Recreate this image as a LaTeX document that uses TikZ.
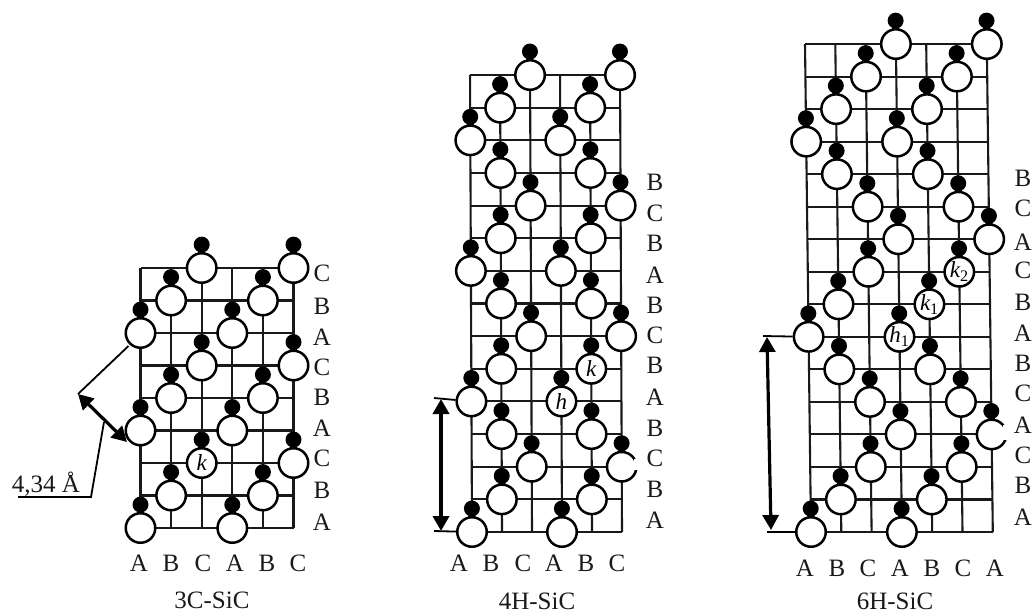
\documentclass[tikz,border=0pt]{standalone}
\usepackage{fontspec}
\setmainfont{Liberation Serif}
\usetikzlibrary{arrows.meta}
\tikzset{
  gridline/.style={line width=2.1pt,black!90},
  atomnode/.style={circle,draw=black,line width=2.5pt,fill=white,minimum size=29.5pt,inner sep=0pt},
  dotnode/.style={circle,fill=black,minimum size=16pt,inner sep=0pt},
  stem/.style={line width=7pt,black,shorten >=-10pt},
  lab/.style={font=\fontsize{25}{25}\selectfont,inner sep=0pt,text=black!90},
  inlab/.style={font=\fontsize{23}{23}\selectfont\itshape,inner sep=0pt},
  dim/.style={line width=4pt,{Triangle[length=15pt,width=16pt]}-{Triangle[length=15pt,width=16pt]}},
  thinl/.style={line width=1.8pt,black}
}
\begin{document}
\begin{tikzpicture}[x=1pt,y=-1pt]
\useasboundingbox (0,0) rectangle (1035,613);
\fill[white] (0,0) rectangle (1035,613);

% ---------- 3C ----------
\begin{scope}[shift={(140.5,528)},x={(30.6pt,0pt)},y={(0pt,32.5pt)}]
  \foreach \r in {0,...,8}{\draw[gridline] (0,\r) -- (5,\r);}
  \foreach \c in {0,...,5}{\draw[gridline] (\c,0) -- (\c,8);}
  \foreach \c/\r in {0/0,3/0,1/1,4/1,2/2,5/2,0/3,3/3,1/4,4/4,2/5,5/5,0/6,3/6,1/7,4/7,2/8,5/8}{
    \node[dotnode] (pa-d-\c-\r) at (\c,\r+0.72) {};
    \coordinate (pa-c-\c-\r) at (\c,\r);
    \draw[stem] (pa-c-\c-\r) -- (pa-d-\c-\r);
    \node[atomnode] (pa-\c-\r) at (\c,\r) {};
  }
  \node[inlab] (pa-k) at (pa-2-2) {k};
\end{scope}
\foreach \t/\y [count=\i] in {A/522,B/490,C/458,A/428,B/397,C/367,A/337,B/306,C/273}{
  \node[lab] (pa-r\i) at (322,\y) {\t};}
\foreach \t/\x [count=\i] in {A/139,B/171,C/203,A/235,B/267,C/298}{
  \node[lab] (pa-b\i) at (\x,563) {\t};}
\node[lab] (pa-name) at (212,600) {3C-SiC};
\coordinate (pa-e1) at (78,394);
\coordinate (pa-e2) at (127,442);
\coordinate (pa-m) at (104,422);
\coordinate (pa-l1) at (18,497);
\coordinate (pa-l2) at (91,497);
\draw[thinl] (pa-0-6) ++(-12,13) -- (pa-e1);
\draw[dim,line width=3.2pt] (pa-e1) -- (pa-e2);
\draw[thinl] (pa-l1) -- (pa-l2) -- (pa-m);
\node[lab] (pa-dist) at (46,484) {4,34 Å};

% ---------- 4H ----------
\begin{scope}[shift={(472,532)},x={(30pt,0pt)},y={(-0.14pt,32.64pt)}]
  \foreach \r in {0,...,14}{\draw[gridline] (0,\r) -- (5,\r);}
  \foreach \c in {0,...,5}{\draw[gridline] (\c,0) -- (\c,14);}
  \foreach \c/\r in {0/0,3/0,1/1,4/1,2/2,5/2,1/3,4/3,0/4,3/4,1/5,4/5,2/6,5/6,1/7,4/7,0/8,3/8,1/9,4/9,2/10,5/10,1/11,4/11,0/12,3/12,1/13,4/13,2/14,5/14}{
    \node[dotnode] (pb-d-\c-\r) at (\c,\r+0.72) {};
    \coordinate (pb-c-\c-\r) at (\c,\r);
    \draw[stem] (pb-c-\c-\r) -- (pb-d-\c-\r);
    \node[atomnode] (pb-\c-\r) at (\c,\r) {};
  }
  \node[inlab] (pb-k) at (pb-4-5) {k};
  \node[inlab] (pb-h) at (pb-3-4) {h};
\end{scope}
\fill[white] (634,459) rectangle (641,470);
\foreach \t/\y [count=\i] in {A/520,B/489,C/458,B/428,A/397,B/365,C/335,B/305,A/275,B/243,C/213,B/182}{
  \node[lab] (pb-r\i) at (655,\y) {\t};}
\foreach \t/\x [count=\i] in {A/459,B/491,C/523,A/554,B/586,C/617}{
  \node[lab] (pb-b\i) at (\x,563) {\t};}
\node[lab] (pb-name) at (537,601) {4H-SiC};
\coordinate (pb-t1) at (434,398);
\coordinate (pb-t2) at (434,531);
\coordinate (pb-e1) at (441,399);
\coordinate (pb-e2) at (441,531);
\draw[thinl] (pb-t1) -- (pb-0-4);
\draw[thinl] (pb-t2) -- (pb-0-0);
\draw[dim] (pb-e1) -- (pb-e2);

% ---------- 6H ----------
\begin{scope}[shift={(811,532)},x={(30.3pt,0pt)},y={(-0.4pt,32.53pt)}]
  \foreach \r in {0,...,15}{\draw[gridline] (0,\r) -- (6,\r);}
  \foreach \c in {0,...,6}{\draw[gridline] (\c,0) -- (\c,15);}
  \foreach \c/\r in {0/0,3/0,1/1,4/1,2/2,5/2,3/3,6/3,2/4,5/4,1/5,4/5,0/6,3/6,1/7,4/7,2/8,5/8,3/9,6/9,2/10,5/10,1/11,4/11,0/12,3/12,1/13,4/13,2/14,5/14,3/15,6/15}{
    \node[dotnode] (pc-d-\c-\r) at (\c,\r+0.72) {};
    \coordinate (pc-c-\c-\r) at (\c,\r);
    \draw[stem] (pc-c-\c-\r) -- (pc-d-\c-\r);
    \node[atomnode] (pc-\c-\r) at (\c,\r) {};
  }
  \node[inlab] (pc-h1) at (pc-3-6) {h\textsubscript{\upshape 1}};
  \node[inlab] (pc-k1) at (pc-4-7) {k\textsubscript{\upshape 1}};
  \node[inlab] (pc-k2) at (pc-5-8) {k\textsubscript{\upshape 2}};
\end{scope}
\fill[white] (1003,425) rectangle (1010,440);
\foreach \t/\y [count=\i] in {A/517,B/485,C/455,A/425,C/393,B/363,A/333,B/302,C/270,A/242,C/208,B/178}{
  \node[lab] (pc-r\i) at (1023,\y) {\t};}
\foreach \t/\x [count=\i] in {A/805,B/837,C/868,A/900,B/932,C/963,A/995}{
  \node[lab] (pc-b\i) at (\x,568) {\t};}
\node[lab] (pc-name) at (895,601) {6H-SiC};
\coordinate (pc-t1) at (763,336);
\coordinate (pc-t2) at (767,532);
\coordinate (pc-e1) at (767,337);
\coordinate (pc-e2) at (771,530);
\draw[thinl] (pc-t1) -- (pc-0-6);
\draw[thinl] (pc-t2) -- (pc-0-0);
\draw[dim,line width=3.2pt] (pc-e1) -- (pc-e2);
\end{tikzpicture}
\end{document}
